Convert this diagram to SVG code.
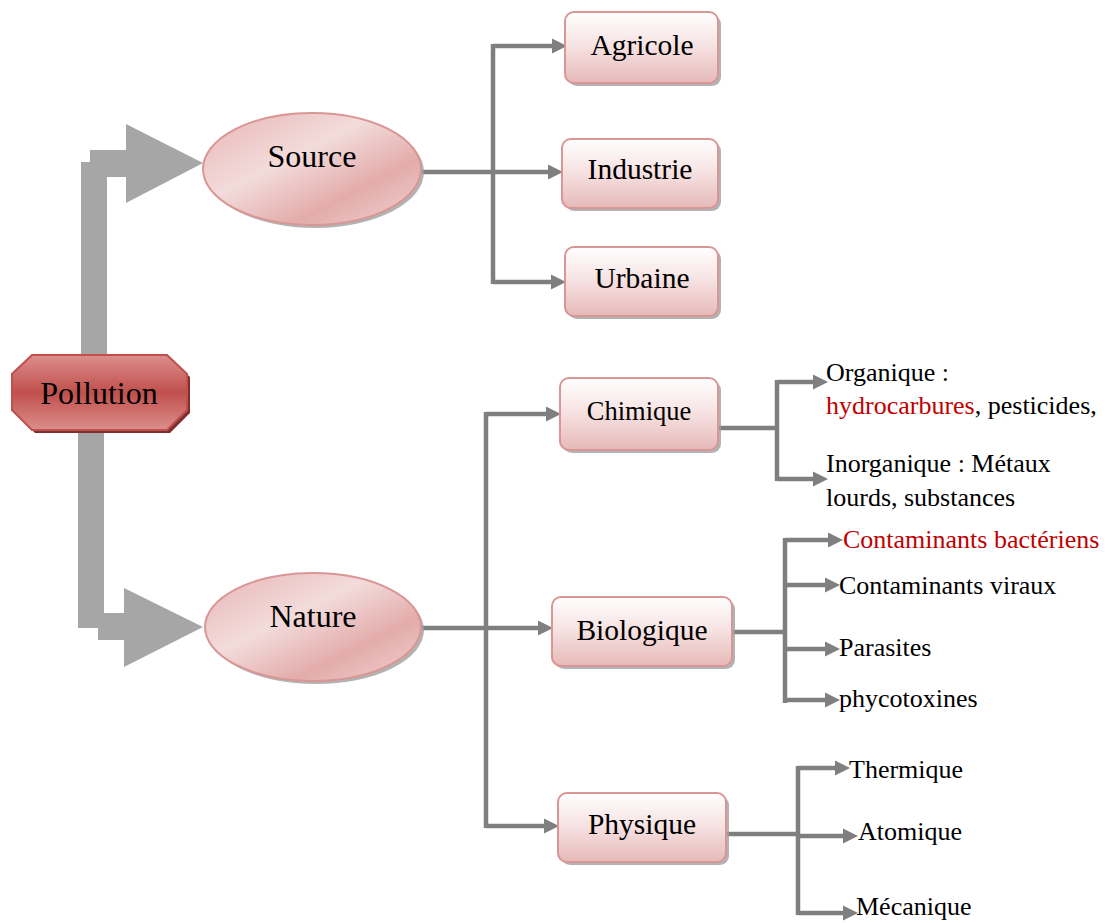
<svg xmlns="http://www.w3.org/2000/svg" width="1109" height="923" viewBox="0 0 1109 923">
<defs>
<linearGradient id="gBox" x1="0" y1="0" x2="0" y2="1">
<stop offset="0" stop-color="#ffffff"/><stop offset="0.45" stop-color="#f7e4e4"/><stop offset="1" stop-color="#e6b9b8"/>
</linearGradient>
<linearGradient id="gEll" x1="0" y1="0" x2="1" y2="1">
<stop offset="0" stop-color="#e8b4b4"/><stop offset="0.4" stop-color="#f2dcdb"/><stop offset="0.7" stop-color="#e3acab"/><stop offset="1" stop-color="#f0d2d1"/>
</linearGradient>
<linearGradient id="gRed" x1="0" y1="0" x2="0" y2="1">
<stop offset="0" stop-color="#dc8e8c"/><stop offset="0.5" stop-color="#c0504d"/><stop offset="1" stop-color="#dc8e8c"/>
</linearGradient>
<path id="ah" d="M-15,-7.5 L0,0 L-15,7.5 Z" fill="#7f7f7f"/>
<style>
.box{fill:url(#gBox);stroke:#d99694;stroke-width:2}
.shadow{fill:#a0a0a0;opacity:0.8}
.ell{fill:url(#gEll);stroke:#d99694;stroke-width:2}
.big{font-size:32px}
.mid{font-size:29.5px}
.chi{font-size:26.5px}
.sm{font-size:26px}
.red{fill:#c00000}
.c{stroke:#7f7f7f;stroke-width:4.5;fill:none}
.bigarrow{fill:#a6a6a6}
</style>
</defs>

<g id="connectors">
<polygon class="bigarrow" points="81,355 81,162 90,162 90,150 126,150 126,124 203,163 126,203 126,177 107,177 107,355"/>
<polygon class="bigarrow" points="78,432 78,628 98,628 98,640 124,640 124,667 203,627 124,588 124,613 104,613 104,432"/>

<path class="c" d="M422,172 H493 M493,44 V284 M493,46 H555 M493,172 H550 M493,282 H552"/>
<use href="#ah" x="567" y="46"/>
<use href="#ah" x="563" y="172"/>
<use href="#ah" x="566" y="282"/>

<path class="c" d="M422,628 H486 M486,412 V828 M486,414 H548 M486,628 H540 M486,826 H546"/>
<use href="#ah" x="561" y="414"/>
<use href="#ah" x="553" y="628"/>
<use href="#ah" x="559" y="826"/>

<path class="c" d="M718,428 H777 M777,380 V481 M777,382 H815 M777,479 H815"/>
<use href="#ah" x="828" y="382"/>
<use href="#ah" x="828" y="479"/>

<path class="c" d="M733,632 H785 M785,538 V703 M785,540 H830 M785,585 H826 M785,649 H826 M785,700 H826"/>
<use href="#ah" x="843" y="540"/>
<use href="#ah" x="840" y="585"/>
<use href="#ah" x="840" y="649"/>
<use href="#ah" x="840" y="700"/>

<path class="c" d="M727,834 H798 M798,766 V915 M798,768 H837 M798,836 H845 M798,913 H845"/>
<use href="#ah" x="850" y="768"/>
<use href="#ah" x="858" y="836"/>
<use href="#ah" x="858" y="913"/>
</g>

<g font-family="'Liberation Serif', 'Times New Roman', 'DejaVu Serif', serif" fill="#000">
<g id="pollution">
<polygon points="35,358 170,358 190,377 190,413 170,433 35,433 15,413 15,377" fill="#7f2f2d"/>
<polygon points="32,355 167,355 187,374 187,410 167,430 32,430 12,410 12,374" fill="url(#gRed)" stroke="#c0504d" stroke-width="2"/>
<text class="big" x="99" y="404" text-anchor="middle">Pollution</text>
</g>

<g id="source">
<ellipse class="shadow" cx="315" cy="172" rx="109" ry="56"/>
<ellipse class="ell" cx="312" cy="169" rx="109" ry="56"/>
<text class="big" x="312" y="167" text-anchor="middle">Source</text>
</g>

<g id="nature">
<ellipse class="shadow" cx="316" cy="630" rx="108" ry="54"/>
<ellipse class="ell" cx="313" cy="627" rx="108" ry="54"/>
<text class="big" x="313" y="627" text-anchor="middle">Nature</text>
</g>

<g id="agricole">
<rect class="shadow" x="568" y="15" width="153" height="71" rx="9"/>
<rect class="box" x="565" y="12" width="153" height="71" rx="9"/>
<text class="mid" x="642" y="55" text-anchor="middle">Agricole</text>
</g>
<g id="industrie">
<rect class="shadow" x="565" y="142" width="156" height="69" rx="9"/>
<rect class="box" x="562" y="139" width="156" height="69" rx="9"/>
<text class="mid" x="640" y="179" text-anchor="middle">Industrie</text>
</g>
<g id="urbaine">
<rect class="shadow" x="568" y="250" width="153" height="69" rx="9"/>
<rect class="box" x="565" y="247" width="153" height="69" rx="9"/>
<text class="mid" x="642" y="288" text-anchor="middle">Urbaine</text>
</g>

<g id="chimique">
<rect class="shadow" x="563" y="381" width="158" height="72" rx="9"/>
<rect class="box" x="560" y="378" width="158" height="72" rx="9"/>
<text class="chi" x="639" y="420" text-anchor="middle">Chimique</text>
</g>
<g id="biologique">
<rect class="shadow" x="555" y="600" width="180" height="69" rx="9"/>
<rect class="box" x="552" y="597" width="180" height="69" rx="9"/>
<text class="mid" x="642" y="640" text-anchor="middle">Biologique</text>
</g>
<g id="physique">
<rect class="shadow" x="561" y="796" width="168" height="69" rx="9"/>
<rect class="box" x="558" y="793" width="168" height="69" rx="9"/>
<text class="mid" x="642" y="834" text-anchor="middle">Physique</text>
</g>

<g id="organique">
<text class="sm" x="826" y="381">Organique :</text>
<text class="sm" x="826" y="414"><tspan class="red">hydrocarbures</tspan>, pesticides,</text>
</g>
<g id="inorganique">
<text class="sm" x="826" y="472">Inorganique : Métaux</text>
<text class="sm" x="826" y="506">lourds, substances</text>
</g>
<g id="bacteriens"><text class="sm red" x="843" y="548">Contaminants bactériens</text></g>
<g id="viraux"><text class="sm" x="839" y="594">Contaminants viraux</text></g>
<g id="parasites"><text class="sm" x="839" y="656">Parasites</text></g>
<g id="phycotoxines"><text class="sm" x="839" y="707">phycotoxines</text></g>
<g id="thermique"><text class="sm" x="849" y="778">Thermique</text></g>
<g id="atomique"><text class="sm" x="858" y="840">Atomique</text></g>
<g id="mecanique"><text class="sm" x="856" y="915">Mécanique</text></g>
</g>
</svg>
